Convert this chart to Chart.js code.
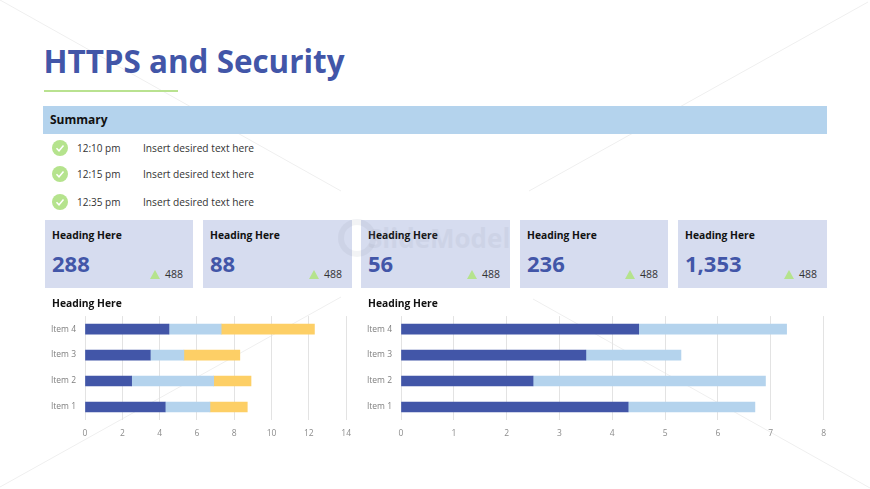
<!DOCTYPE html>
<html>
<head>
<meta charset="utf-8">
<script src="https://cdn.jsdelivr.net/npm/chart.js@4"></script>
<style>
html, body { margin: 0; padding: 0; background: #fff; }
#slide { position: relative; width: 870px; height: 489px; overflow: hidden; font-family: "Open Sans", sans-serif; background: #fff; }
#slide > * { position: absolute; }
#decor { left: 0; top: 0; }
#title { left: 43.5px; top: 39px; font-size: 31.4px; line-height: 44px; font-weight: 700; color: #4256a8; white-space: nowrap; }
#rule { left: 44px; top: 90px; width: 134px; height: 2px; background: #b9e290; }
#summary { left: 43px; top: 106px; width: 784px; height: 28px; background: #b4d3ed; font-size: 12px; font-weight: 700; line-height: 27px; color: #111; text-indent: 7px; }
.time, .note { font-size: 10.2px; line-height: 16px; color: #333; white-space: nowrap; }
.time { left: 77px; font-size: 10px; }
.note { left: 143px; }
.check { left: 52px; width: 16px; height: 16px; }
.check svg, .card .up svg { display: block; }
.card { top: 220px; height: 68px; background: #d6dcef; }
.card b { position: absolute; left: 7px; top: 7.5px; font-size: 10.3px; line-height: 15px; color: #111; white-space: nowrap; }
.card .num { position: absolute; left: 7px; top: 28px; font-size: 22px; line-height: 30px; font-weight: 700; color: #4256a8; white-space: nowrap; }
.card .up { position: absolute; right: 33px; top: 50px; width: 10px; height: 9px; }
.card .delta { position: absolute; right: 10px; top: 47px; font-size: 10.5px; line-height: 15px; color: #333; }
.heading { top: 295.5px; font-size: 10.3px; line-height: 15px; font-weight: 700; color: #111; white-space: nowrap; }
#mark { left: 336px; top: 216px; width: 190px; height: 44px; font-size: 26px; line-height: 44px; font-weight: 700; color: #8a8fa8; opacity: 0.11; white-space: nowrap; text-indent: 32px; }
#ring { left: 338px; top: 219px; width: 26px; height: 26px; border: 6px solid #8a8fa8; border-radius: 50%; opacity: 0.11; }
#chartA { left: 45px; top: 302px; width: 314px; height: 138px; }
#chartB { left: 361px; top: 302px; width: 473px; height: 138px; }
</style>
</head>
<body>
<div id="slide">
  <svg id="decor" width="870" height="489">
    <g stroke="#efefef" stroke-width="1">
      <line x1="0" y1="0" x2="341" y2="191"/>
      <line x1="529" y1="191" x2="868" y2="2"/>
      <line x1="341" y1="297" x2="0" y2="487"/>
      <line x1="533" y1="299" x2="870" y2="488"/>
    </g>
  </svg>
  <div id="title">HTTPS and Security</div>
  <div id="rule"></div>
  <div id="summary">Summary</div>
  <canvas id="chartA" width="314" height="138"></canvas>
  <canvas id="chartB" width="473" height="138"></canvas>
</div>
<script>
var categories = ["Item 1", "Item 2", "Item 3", "Item 4"];
var leftFirst = [4.3, 2.5, 3.5, 4.5];
var leftSecond = [2.4, 4.4, 1.8, 2.8];
var leftThird = [2, 2, 3, 5];
var rightFirst = [4.3, 2.5, 3.5, 4.5];
var rightSecond = [2.4, 4.4, 1.8, 2.8];
var leftMax = 14;
var leftStep = 2;
var rightMax = 8;
var rightStep = 1;

var times = ["12:10 pm", "12:15 pm", "12:35 pm"];
var notes = ["Insert desired text here", "Insert desired text here", "Insert desired text here"];
var cardHeadings = ["Heading Here", "Heading Here", "Heading Here", "Heading Here", "Heading Here"];
var cardNumbers = ["288", "88", "56", "236", "1,353"];
var cardDeltas = ["488", "488", "488", "488", "488"];
var chartHeadings = ["Heading Here", "Heading Here"];

var DARK = "#4256a8";
var LIGHT = "#b4d3ed";
var YELLOW = "#fdcf66";

var slide = document.getElementById("slide");

function add(cls, text, style) {
    var el = document.createElement("div");
    el.className = cls;
    if (text) el.textContent = text;
    for (var k in style) el.style[k] = style[k];
    slide.appendChild(el);
    return el;
}

// summary rows
var rowTops = [140, 166, 194];
times.forEach(function (t, i) {
    var c = add("check", "", { top: rowTops[i] + "px" });
    c.innerHTML = '<svg width="16" height="16"><circle cx="8" cy="8" r="8" fill="#b5e38d"/>' +
        '<path d="M4.5 8.3 L7 10.8 L11.5 5.6" fill="none" stroke="#fff" stroke-width="1.5"/></svg>';
    add("time", t, { top: rowTops[i] + "px" });
    add("note", notes[i], { top: rowTops[i] + "px" });
});

// cards
var cardLefts = [45, 203, 361, 520, 678];
var cardWidths = [148, 149, 149, 148, 149];
cardNumbers.forEach(function (n, i) {
    var c = add("card", "", { left: cardLefts[i] + "px", width: cardWidths[i] + "px" });
    var b = document.createElement("b");
    b.textContent = cardHeadings[i];
    c.appendChild(b);
    var num = document.createElement("div");
    num.className = "num";
    num.textContent = n;
    c.appendChild(num);
    var up = document.createElement("div");
    up.className = "up";
    up.innerHTML = '<svg width="10" height="9"><path d="M5 0 L10 9 L0 9 Z" fill="#b5e38d"/></svg>';
    c.appendChild(up);
    var d = document.createElement("div");
    d.className = "delta";
    d.textContent = cardDeltas[i];
    c.appendChild(d);
});

add("heading", chartHeadings[0], { left: "52px" });
add("heading", chartHeadings[1], { left: "368px" });

// faint watermark on top of the cards
add("", "", {}).id = "ring";
add("", "SlideModel", {}).id = "mark";

function makeChart(id, datasets, max, step) {
    return new Chart(document.getElementById(id), {
        type: "bar",
        data: { labels: categories, datasets: datasets },
        options: {
            indexAxis: "y",
            responsive: false,
            animation: false,
            plugins: { legend: { display: false }, tooltip: { enabled: false } },
            scales: {
                x: {
                    stacked: true,
                    min: 0,
                    max: max,
                    grid: { color: "#e3e3e3", drawTicks: false },
                    border: { display: false },
                    ticks: { stepSize: step, color: "#8c8c8c", padding: 8, maxRotation: 0,
                        font: { family: "Open Sans", size: 8.5 } },
                    afterFit: function (s) { s.height = 20; }
                },
                y: {
                    stacked: true,
                    reverse: true,
                    grid: { display: false, drawTicks: false },
                    border: { display: false },
                    ticks: { color: "#7f7f7f", padding: 9, font: { family: "Open Sans", size: 8.5 } },
                    afterFit: function (s) { s.width = 40; }
                }
            }
        }
    });
}

function series(values, color) {
    return { data: values, backgroundColor: color, barThickness: 10 };
}

makeChart("chartA", [series(leftFirst, DARK), series(leftSecond, LIGHT), series(leftThird, YELLOW)], leftMax, leftStep);
makeChart("chartB", [series(rightFirst, DARK), series(rightSecond, LIGHT)], rightMax, rightStep);
</script>
</body>
</html>
